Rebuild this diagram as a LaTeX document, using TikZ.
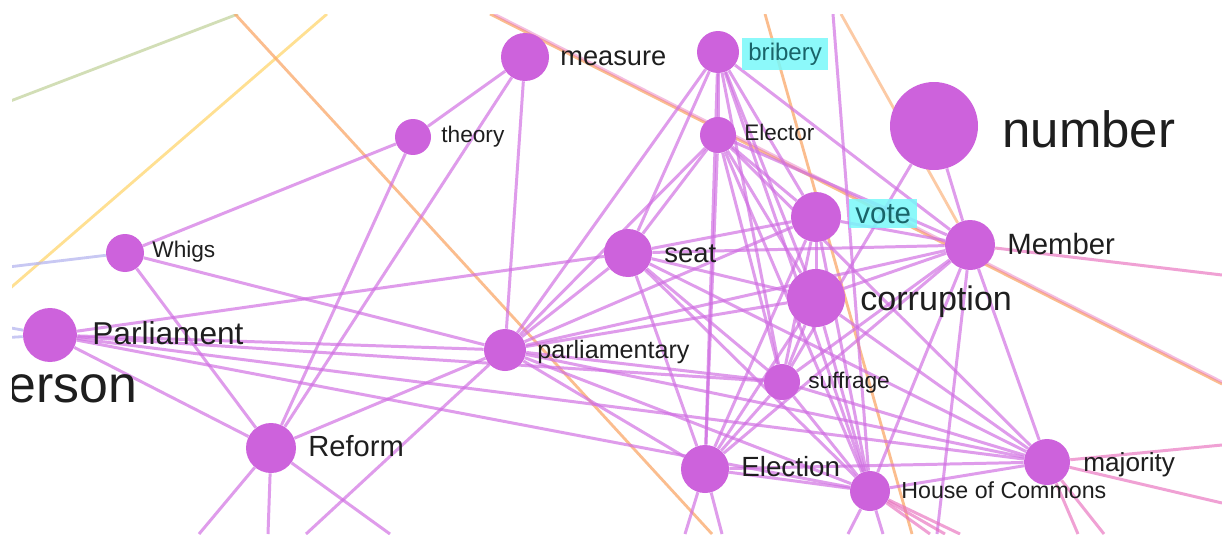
\documentclass[tikz,border=0pt]{standalone}
\usepackage{fontspec}
\setmainfont{Liberation Sans}
\usetikzlibrary{backgrounds}
\definecolor{wordfill}{RGB}{205,98,220}
\definecolor{wordedge}{RGB}{208,110,226}
\definecolor{wordtext}{RGB}{30,30,30}
\definecolor{hlcyan}{RGB}{120,248,250}
\definecolor{hltext}{RGB}{25,100,105}
\definecolor{lnorange}{RGB}{250,168,105}
\definecolor{lnyellow}{RGB}{255,214,110}
\definecolor{lngreen}{RGB}{196,212,158}
\definecolor{lnlav}{RGB}{182,182,240}
\definecolor{lnpink}{RGB}{232,112,190}

\begin{document}
\begin{tikzpicture}[x=0.02cm,y=-0.02cm]
\tikzstyle{wn}=[circle, fill=wordfill, inner sep=0pt]
\tikzstyle{lbl}=[anchor=base west, inner sep=0pt, text=wordtext]
\tikzstyle{hl}=[lbl, fill=hlcyan, fill opacity=0.85, text opacity=1, inner xsep=0.12cm, inner ysep=0.1cm, text=hltext]
\tikzstyle{ed}=[draw=wordedge, line width=1.7pt, draw opacity=0.68]
\tikzstyle{pk}=[draw=lnpink, line width=1.7pt, draw opacity=0.65]
\tikzstyle{ol}=[line width=1.6pt, draw opacity=0.75]
\useasboundingbox (0,0) rectangle (1222,534);
\begin{scope}
\clip (12,14) rectangle (1222,534);
\node[wn, minimum size=0.96cm] (measure) at (525,57) {};
\node[wn, minimum size=0.84cm] (bribery) at (718,52) {};
\node[wn, minimum size=0.72cm] (theory) at (413,137) {};
\node[wn, minimum size=0.72cm] (Elector) at (718,135) {};
\node[wn, minimum size=1.76cm] (number) at (934,126) {};
\node[wn, minimum size=1.0cm] (vote) at (816,217) {};
\node[wn, minimum size=1.0cm] (Member) at (970,245) {};
\node[wn, minimum size=0.96cm] (seat) at (628,253) {};
\node[wn, minimum size=0.76cm] (Whigs) at (125,253) {};
\node[wn, minimum size=1.16cm] (corruption) at (816,298) {};
\node[wn, minimum size=1.08cm] (Parliament) at (50,335) {};
\node[wn, minimum size=0.84cm] (parliamentary) at (505,350) {};
\node[wn, minimum size=0.72cm] (suffrage) at (782,382) {};
\node[wn, minimum size=1.0cm] (Reform) at (271,448) {};
\node[wn, minimum size=0.96cm] (Election) at (705,469) {};
\node[wn, minimum size=0.8cm] (HoC) at (870,491) {};
\node[wn, minimum size=0.92cm] (majority) at (1047,462) {};
\node[lbl, font=\fontsize{15.5}{16}\selectfont] (measure-l) at (560,65) {measure};
\node[hl, font=\fontsize{13.7}{14}\selectfont] (bribery-l) at (742,60) {bribery};
\node[lbl, font=\fontsize{12.9}{13}\selectfont] (theory-l) at (441,142) {theory};
\node[lbl, font=\fontsize{12.8}{13}\selectfont] (Elector-l) at (744,140) {Elector};
\node[lbl, font=\fontsize{29}{30}\selectfont] (number-l) at (1002,147) {number};
\node[hl, font=\fontsize{16.8}{17}\selectfont] (vote-l) at (849,223) {vote};
\node[lbl, font=\fontsize{16.7}{17}\selectfont] (Member-l) at (1007,254) {Member};
\node[lbl, font=\fontsize{15.6}{16}\selectfont] (seat-l) at (664,262) {seat};
\node[lbl, font=\fontsize{12.9}{13}\selectfont] (Whigs-l) at (152,257) {Whigs};
\node[lbl, font=\fontsize{19.4}{20}\selectfont] (corruption-l) at (860,310) {corruption};
\node[lbl, font=\fontsize{18}{19}\selectfont] (Parliament-l) at (92,344) {Parliament};
\node[lbl, font=\fontsize{14.3}{15}\selectfont] (parliamentary-l) at (537,358) {parliamentary};
\node[lbl, font=\fontsize{29.5}{30}\selectfont] (erson-l) at (7,402) {erson};
\node[lbl, font=\fontsize{12.9}{13}\selectfont] (suffrage-l) at (808,388) {suffrage};
\node[lbl, font=\fontsize{16.6}{17}\selectfont] (Reform-l) at (308,456) {Reform};
\node[lbl, font=\fontsize{15.8}{16}\selectfont] (Election-l) at (741,476) {Election};
\node[lbl, font=\fontsize{13.2}{14}\selectfont] (HoC-l) at (901,498) {House of Commons};
\node[lbl, font=\fontsize{14.9}{15}\selectfont] (majority-l) at (1083,471) {majority};
\end{scope}
\begin{scope}[on background layer]
\fill[white] (0,0) rectangle (1222,534);
\clip (12,14) rectangle (1222,534);
\coordinate (whL) at (0,268);
\coordinate (paL1) at (0,326);
\coordinate (paL2) at (0,338);
\coordinate (reB1) at (199,534);
\coordinate (reB2) at (268,534);
\coordinate (reB3) at (390,534);
\coordinate (paB) at (306,534);
\coordinate (elB1) at (685,534);
\coordinate (elB2) at (722,534);
\coordinate (hcB1) at (848,534);
\coordinate (hcB2) at (883,534);
\coordinate (hcP1) at (930,534);
\coordinate (hcP2) at (945,534);
\coordinate (hcP3) at (960,534);
\coordinate (hcT) at (833,14);
\coordinate (meB) at (937,534);
\coordinate (meR) at (1222,275);
\coordinate (mjR1) at (1222,445);
\coordinate (mjR2) at (1222,503);
\coordinate (mjB1) at (1078,534);
\coordinate (mjB2) at (1104,534);
\coordinate (grA) at (238,14);
\coordinate (grB) at (0,105);
\coordinate (yeA) at (327,14);
\coordinate (yeB) at (0,297);
\coordinate (orA) at (235,14);
\coordinate (orB) at (712,534);
\coordinate (orC) at (490,14);
\coordinate (orD) at (1222,384);
\coordinate (orE) at (765,14);
\coordinate (orF) at (912,534);
\coordinate (orG) at (841,14);
\draw [ol, draw=lngreen] (grA) -- (grB);
\draw [ol, draw=lnyellow] (yeA) -- (yeB);
\draw [ol, draw=lnorange] (orA) -- (orB);
\draw [ol, draw=lnorange] (orC) -- (orD);
\draw [ol, draw=lnpink, draw opacity=0.45] ([xshift=0.08cm]orC) -- ([xshift=0.08cm]orD);
\draw [ol, draw=lnorange] (orE) -- (orF);
\draw [ol, draw=lnorange, draw opacity=0.6] (orG) -- (Member);
\draw [ol, draw=lnlav] (whL) -- (Whigs);
\draw [ol, draw=lnlav] (paL1) -- (Parliament);
\draw [ol, draw=lnlav] (paL2) -- (Parliament);
\draw [ed] (parliamentary) -- (measure);
\draw [ed] (parliamentary) -- (Whigs);
\draw [ed] (parliamentary) -- (Parliament);
\draw [ed] (parliamentary) -- (Reform);
\draw [ed] (parliamentary) -- (bribery);
\draw [ed] (parliamentary) -- (Elector);
\draw [ed] (parliamentary) -- (seat);
\draw [ed] (parliamentary) -- (vote);
\draw [ed] (parliamentary) -- (Member);
\draw [ed] (parliamentary) -- (corruption);
\draw [ed] (parliamentary) -- (suffrage);
\draw [ed] (parliamentary) -- (Election);
\draw [ed] (parliamentary) -- (HoC);
\draw [ed] (parliamentary) -- (majority);
\draw [ed] (parliamentary) -- (paB);
\draw [ed] (measure) -- (theory);
\draw [ed] (measure) -- (Reform);
\draw [ed] (theory) -- (Whigs);
\draw [ed] (theory) -- (Reform);
\draw [ed] (Whigs) -- (Reform);
\draw [ed] (Parliament) -- (seat);
\draw [ed] (Parliament) -- (Reform);
\draw [ed] (Parliament) -- (suffrage);
\draw [ed] (Parliament) -- (majority);
\draw [ed] (Parliament) -- (HoC);
\draw [ed] (Reform) -- (reB1);
\draw [ed] (Reform) -- (reB2);
\draw [ed] (Reform) -- (reB3);
\draw [ed] (seat) -- (bribery);
\draw [ed] (seat) -- (Elector);
\draw [ed] (seat) -- (vote);
\draw [ed] (seat) -- (Member);
\draw [ed] (seat) -- (corruption);
\draw [ed] (seat) -- (suffrage);
\draw [ed] (seat) -- (Election);
\draw [ed] (seat) -- (HoC);
\draw [ed] (seat) -- (majority);
\draw [ed] (bribery) -- (Elector);
\draw [ed] (bribery) -- (vote);
\draw [ed] (bribery) -- (Member);
\draw [ed] (bribery) -- (corruption);
\draw [ed] (bribery) -- (suffrage);
\draw [ed] (bribery) -- (Election);
\draw [ed] (bribery) -- (HoC);
\draw [ed] (Elector) -- (vote);
\draw [ed] (Elector) -- (Member);
\draw [ed] (Elector) -- (corruption);
\draw [ed] (Elector) -- (suffrage);
\draw [ed] (Elector) -- (Election);
\draw [ed] (Elector) -- (HoC);
\draw [ed] (Elector) -- (majority);
\draw [ed] (vote) -- (Member);
\draw [ed] (vote) -- (corruption);
\draw [ed] (vote) -- (suffrage);
\draw [ed] (vote) -- (Election);
\draw [ed] (vote) -- (HoC);
\draw [ed] (number) -- (Member);
\draw [ed] (number) -- (suffrage);
\draw [ed] (Member) -- (corruption);
\draw [ed] (Member) -- (suffrage);
\draw [ed] (Member) -- (Election);
\draw [ed] (Member) -- (HoC);
\draw [ed] (Member) -- (majority);
\draw [ed] (Member) -- (meB);
\draw [pk] (Member) -- (meR);
\draw [ed] (corruption) -- (suffrage);
\draw [ed] (corruption) -- (Election);
\draw [ed] (corruption) -- (HoC);
\draw [ed] (corruption) -- (majority);
\draw [ed] (suffrage) -- (Election);
\draw [ed] (suffrage) -- (HoC);
\draw [ed] (suffrage) -- (majority);
\draw [ed] (Election) -- (HoC);
\draw [ed] (Election) -- (majority);
\draw [ed] (Election) -- (elB1);
\draw [ed] (Election) -- (elB2);
\draw [ed] (HoC) -- (majority);
\draw [ed] (HoC) -- (hcT);
\draw [ed] (HoC) -- (hcB1);
\draw [ed] (HoC) -- (hcB2);
\draw [pk] (HoC) -- (hcP1);
\draw [pk] (HoC) -- (hcP2);
\draw [pk] (HoC) -- (hcP3);
\draw [pk] (majority) -- (mjR1);
\draw [pk] (majority) -- (mjR2);
\draw [pk] (majority) -- (mjB1);
\draw [pk] (majority) -- (mjB2);
\end{scope}
\end{tikzpicture}
\end{document}
